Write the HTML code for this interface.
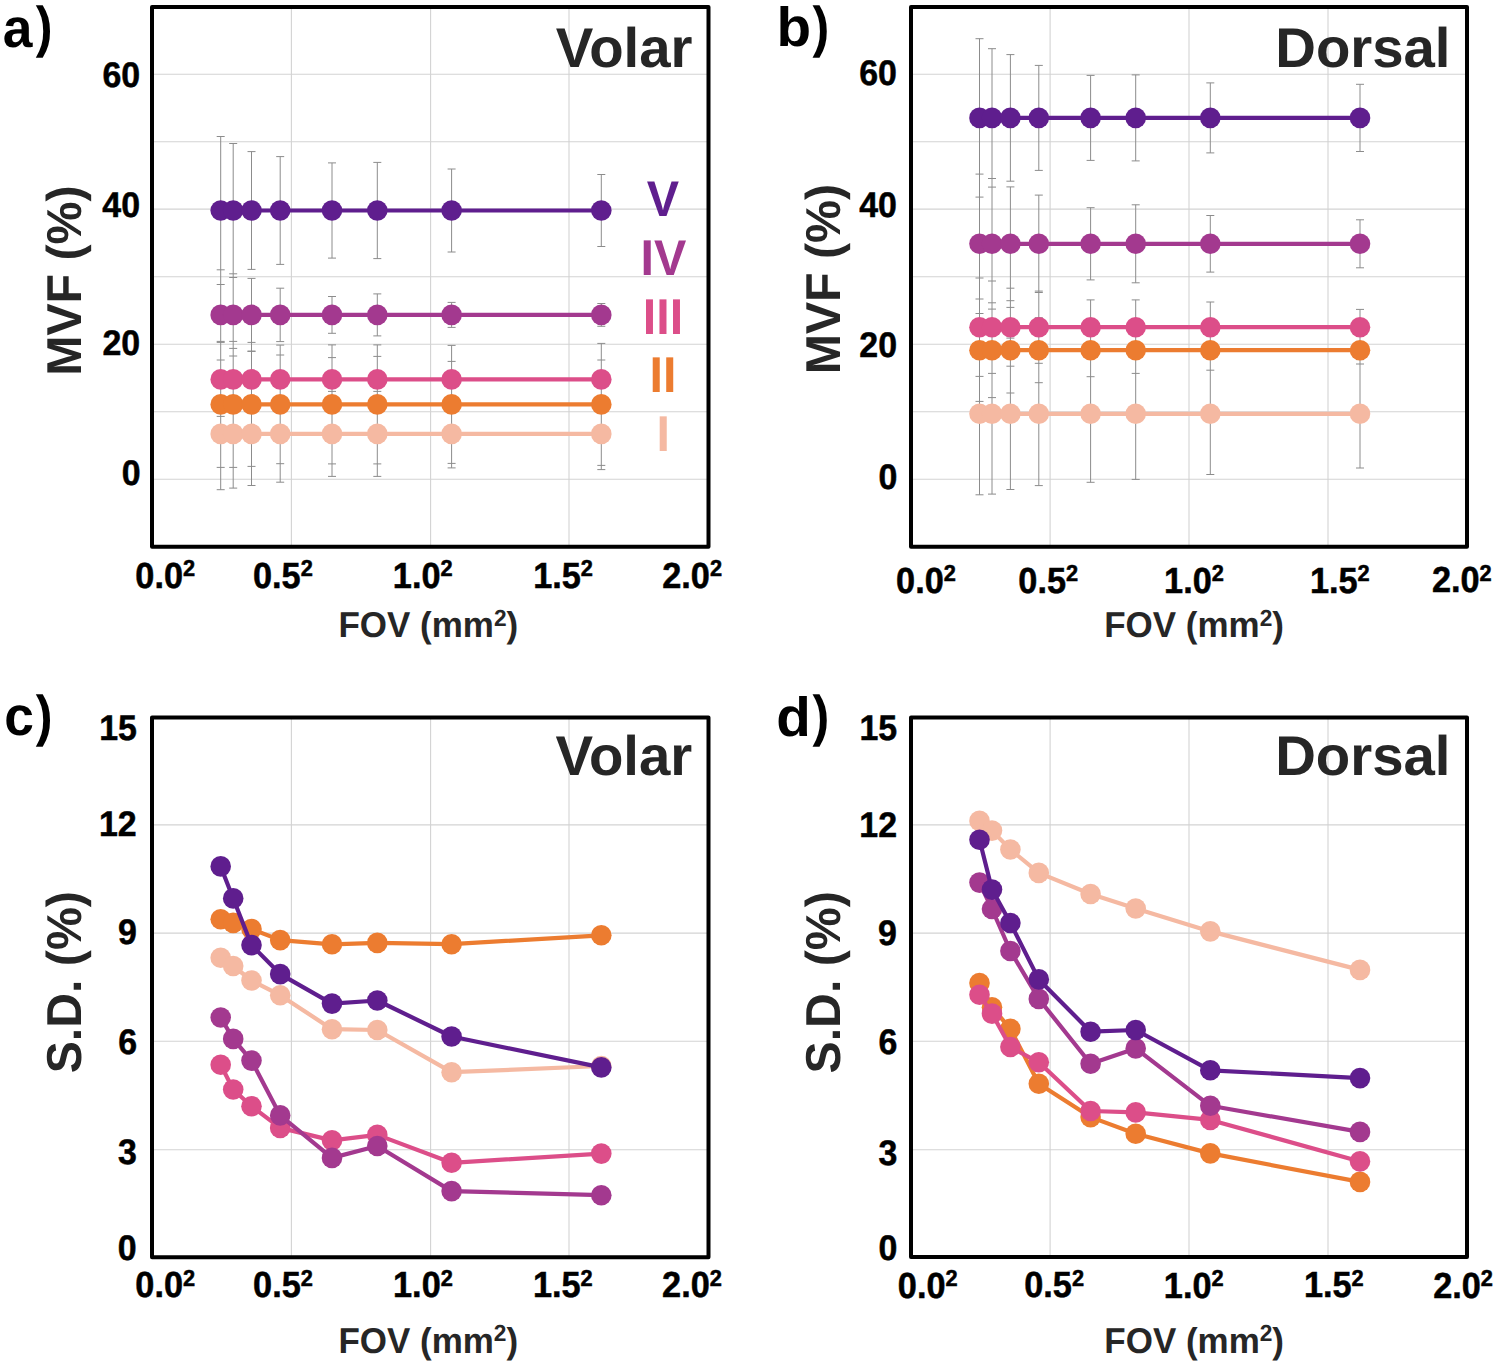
<!DOCTYPE html><html><head><meta charset="utf-8"><title>MVF FOV charts</title><style>html,body{margin:0;padding:0;background:#fff;}svg{display:block;}text{font-family:"Liberation Sans",sans-serif;font-weight:bold;text-rendering:geometricPrecision;}</style></head><body>
<svg width="1498" height="1366" viewBox="0 0 1498 1366">
<rect width="1498" height="1366" fill="#fff"/>
<path d="M291.4 7V546.8M430.6 7V546.8M569 7V546.8M152 74.2H708.5M152 141.7H708.5M152 209.1H708.5M152 276.7H708.5M152 344.3H708.5M152 411.8H708.5M152 479.3H708.5" stroke="#d3d3d3" stroke-width="1.1" fill="none"/>
<path d="M1050.1 7V546.8M1189 7V546.8M1328 7V546.8M911 74.2H1467M911 141.7H1467M911 209.1H1467M911 276.7H1467M911 344.3H1467M911 411.8H1467M911 479.3H1467" stroke="#d3d3d3" stroke-width="1.1" fill="none"/>
<path d="M291.4 717.5V1257.2M430.6 717.5V1257.2M569 717.5V1257.2M152 824.9H708.5M152 933.1H708.5M152 1041.3H708.5M152 1149.7H708.5" stroke="#d3d3d3" stroke-width="1.1" fill="none"/>
<path d="M1050.1 717.5V1257.1M1189 717.5V1257.1M1328 717.5V1257.1M911 824.9H1467M911 933.1H1467M911 1041.3H1467M911 1149.7H1467" stroke="#d3d3d3" stroke-width="1.1" fill="none"/>
<path d="M220.7 136.5V489.7M233.2 143.5V488.1M251.5 151.6V269.4M251.5 278.4V485.5M280.2 156.6V264.4M280.2 288.2V341.6M280.2 345.1V482.2M332 162.9V258.1M332 296.5V333.3M332 344.9V476.4M377.3 162.4V258.6M377.3 293.9V335.9M377.3 344.9V476.4M451.6 169V252M451.6 302.4V327.4M451.6 345.4V467.9M601.3 174.5V246.5M601.3 303.5V326.3M601.3 343.4V469.6" stroke="#8c8c8c" stroke-width="1" fill="none"/>
<path d="M216.7 378.1H224.7M216.7 489.7H224.7M229.2 379.7H237.2M229.2 488.1H237.2M247.5 382.3H255.5M247.5 485.5H255.5M276.2 385.6H284.2M276.2 482.2H284.2M328 391.4H336M328 476.4H336M373.3 391.4H381.3M373.3 476.4H381.3M447.6 399.9H455.6M447.6 467.9H455.6M597.3 398.2H605.3M597.3 469.6H605.3M216.7 341.4H224.7M216.7 467.4H224.7M229.2 341.4H237.2M229.2 467.4H237.2M247.5 342.4H255.5M247.5 466.4H255.5M276.2 345.1H284.2M276.2 463.7H284.2M328 344.9H336M328 463.9H336M373.3 344.9H381.3M373.3 463.9H381.3M447.6 345.4H455.6M447.6 463.4H455.6M597.3 343.4H605.3M597.3 465.4H605.3M216.7 342.4H224.7M216.7 416.4H224.7M229.2 348.4H237.2M229.2 410.4H237.2M247.5 351.1H255.5M247.5 407.7H255.5M276.2 355H284.2M276.2 403.8H284.2M328 357.6H336M328 401.2H336M373.3 356.4H381.3M373.3 402.4H381.3M447.6 361.4H455.6M447.6 397.4H455.6M597.3 360H605.3M597.3 398.8H605.3M216.7 269.8H224.7M216.7 360H224.7M229.2 273.8H237.2M229.2 356H237.2M247.5 278.4H255.5M247.5 351.4H255.5M276.2 288.2H284.2M276.2 341.6H284.2M328 296.5H336M328 333.3H336M373.3 293.9H381.3M373.3 335.9H381.3M447.6 302.4H455.6M447.6 327.4H455.6M597.3 303.5H605.3M597.3 326.3H605.3M216.7 136.5H224.7M216.7 284.5H224.7M229.2 143.5H237.2M229.2 277.5H237.2M247.5 151.6H255.5M247.5 269.4H255.5M276.2 156.6H284.2M276.2 264.4H284.2M328 162.9H336M328 258.1H336M373.3 162.4H381.3M373.3 258.6H381.3M447.6 169H455.6M447.6 252H455.6M597.3 174.5H605.3M597.3 246.5H605.3" stroke="#8c8c8c" stroke-width="1" fill="none"/>
<path d="M979.5 38.7V494.8M992 48.7V494.1M1010.4 54.6V181.2M1010.4 186.9V489.5M1038.8 65.4V170.4M1038.8 195.1V485.6M1090.6 75.4V160.4M1090.6 207.7V279.9M1090.6 299.9V482.3M1135.7 74.9V160.9M1135.7 204.8V282.8M1135.7 299.9V479.4M1210.3 82.9V152.9M1210.3 215.5V272.1M1210.3 302V474.5M1360 84.3V151.5M1360 219.8V267.8M1360 309.4V468" stroke="#8c8c8c" stroke-width="1" fill="none"/>
<path d="M975.5 332.8H983.5M975.5 494.8H983.5M988 333.5H996M988 494.1H996M1006.4 338.1H1014.4M1006.4 489.5H1014.4M1034.8 342H1042.8M1034.8 485.6H1042.8M1086.6 345.3H1094.6M1086.6 482.3H1094.6M1131.7 348.2H1139.7M1131.7 479.4H1139.7M1206.3 353.1H1214.3M1206.3 474.5H1214.3M1356 359.6H1364M1356 468H1364M975.5 299H983.5M975.5 401.4H983.5M988 302.8H996M988 397.6H996M1006.4 307.4H1014.4M1006.4 393H1014.4M1034.8 317.7H1042.8M1034.8 382.7H1042.8M1086.6 323.7H1094.6M1086.6 376.7H1094.6M1131.7 327H1139.7M1131.7 373.4H1139.7M1206.3 330.2H1214.3M1206.3 370.2H1214.3M1356 336.4H1364M1356 364H1364M975.5 278H983.5M975.5 376.4H983.5M988 281H996M988 373.4H996M1006.4 288.2H1014.4M1006.4 366.2H1014.4M1034.8 291.1H1042.8M1034.8 363.3H1042.8M1086.6 299.9H1094.6M1086.6 354.5H1094.6M1131.7 299.9H1139.7M1131.7 354.5H1139.7M1206.3 302H1214.3M1206.3 352.4H1214.3M1356 309.4H1364M1356 345H1364M975.5 174.1H983.5M975.5 313.5H983.5M988 178.5H996M988 309.1H996M1006.4 186.9H1014.4M1006.4 300.7H1014.4M1034.8 195.1H1042.8M1034.8 292.5H1042.8M1086.6 207.7H1094.6M1086.6 279.9H1094.6M1131.7 204.8H1139.7M1131.7 282.8H1139.7M1206.3 215.5H1214.3M1206.3 272.1H1214.3M1356 219.8H1364M1356 267.8H1364M975.5 38.7H983.5M975.5 197.1H983.5M988 48.7H996M988 187.1H996M1006.4 54.6H1014.4M1006.4 181.2H1014.4M1034.8 65.4H1042.8M1034.8 170.4H1042.8M1086.6 75.4H1094.6M1086.6 160.4H1094.6M1131.7 74.9H1139.7M1131.7 160.9H1139.7M1206.3 82.9H1214.3M1206.3 152.9H1214.3M1356 84.3H1364M1356 151.5H1364" stroke="#8c8c8c" stroke-width="1" fill="none"/>
<polyline points="220.7,433.9 233.2,433.9 251.5,433.9 280.2,433.9 332,433.9 377.3,433.9 451.6,433.9 601.3,433.9" fill="none" stroke="#f5b9a2" stroke-width="4.2" stroke-linejoin="round"/>
<g fill="#f5b9a2"><circle cx="220.7" cy="433.9" r="10.3"/><circle cx="233.2" cy="433.9" r="10.3"/><circle cx="251.5" cy="433.9" r="10.3"/><circle cx="280.2" cy="433.9" r="10.3"/><circle cx="332" cy="433.9" r="10.3"/><circle cx="377.3" cy="433.9" r="10.3"/><circle cx="451.6" cy="433.9" r="10.3"/><circle cx="601.3" cy="433.9" r="10.3"/></g>
<polyline points="220.7,404.4 233.2,404.4 251.5,404.4 280.2,404.4 332,404.4 377.3,404.4 451.6,404.4 601.3,404.4" fill="none" stroke="#ec7c30" stroke-width="4.2" stroke-linejoin="round"/>
<g fill="#ec7c30"><circle cx="220.7" cy="404.4" r="10.3"/><circle cx="233.2" cy="404.4" r="10.3"/><circle cx="251.5" cy="404.4" r="10.3"/><circle cx="280.2" cy="404.4" r="10.3"/><circle cx="332" cy="404.4" r="10.3"/><circle cx="377.3" cy="404.4" r="10.3"/><circle cx="451.6" cy="404.4" r="10.3"/><circle cx="601.3" cy="404.4" r="10.3"/></g>
<polyline points="220.7,379.4 233.2,379.4 251.5,379.4 280.2,379.4 332,379.4 377.3,379.4 451.6,379.4 601.3,379.4" fill="none" stroke="#dc4e89" stroke-width="4.2" stroke-linejoin="round"/>
<g fill="#dc4e89"><circle cx="220.7" cy="379.4" r="10.3"/><circle cx="233.2" cy="379.4" r="10.3"/><circle cx="251.5" cy="379.4" r="10.3"/><circle cx="280.2" cy="379.4" r="10.3"/><circle cx="332" cy="379.4" r="10.3"/><circle cx="377.3" cy="379.4" r="10.3"/><circle cx="451.6" cy="379.4" r="10.3"/><circle cx="601.3" cy="379.4" r="10.3"/></g>
<polyline points="220.7,314.9 233.2,314.9 251.5,314.9 280.2,314.9 332,314.9 377.3,314.9 451.6,314.9 601.3,314.9" fill="none" stroke="#a3398f" stroke-width="4.2" stroke-linejoin="round"/>
<g fill="#a3398f"><circle cx="220.7" cy="314.9" r="10.3"/><circle cx="233.2" cy="314.9" r="10.3"/><circle cx="251.5" cy="314.9" r="10.3"/><circle cx="280.2" cy="314.9" r="10.3"/><circle cx="332" cy="314.9" r="10.3"/><circle cx="377.3" cy="314.9" r="10.3"/><circle cx="451.6" cy="314.9" r="10.3"/><circle cx="601.3" cy="314.9" r="10.3"/></g>
<polyline points="220.7,210.5 233.2,210.5 251.5,210.5 280.2,210.5 332,210.5 377.3,210.5 451.6,210.5 601.3,210.5" fill="none" stroke="#5f1e8e" stroke-width="4.2" stroke-linejoin="round"/>
<g fill="#5f1e8e"><circle cx="220.7" cy="210.5" r="10.3"/><circle cx="233.2" cy="210.5" r="10.3"/><circle cx="251.5" cy="210.5" r="10.3"/><circle cx="280.2" cy="210.5" r="10.3"/><circle cx="332" cy="210.5" r="10.3"/><circle cx="377.3" cy="210.5" r="10.3"/><circle cx="451.6" cy="210.5" r="10.3"/><circle cx="601.3" cy="210.5" r="10.3"/></g>
<polyline points="979.5,413.8 992,413.8 1010.4,413.8 1038.8,413.8 1090.6,413.8 1135.7,413.8 1210.3,413.8 1360,413.8" fill="none" stroke="#f5b9a2" stroke-width="4.2" stroke-linejoin="round"/>
<g fill="#f5b9a2"><circle cx="979.5" cy="413.8" r="10.3"/><circle cx="992" cy="413.8" r="10.3"/><circle cx="1010.4" cy="413.8" r="10.3"/><circle cx="1038.8" cy="413.8" r="10.3"/><circle cx="1090.6" cy="413.8" r="10.3"/><circle cx="1135.7" cy="413.8" r="10.3"/><circle cx="1210.3" cy="413.8" r="10.3"/><circle cx="1360" cy="413.8" r="10.3"/></g>
<polyline points="979.5,350.2 992,350.2 1010.4,350.2 1038.8,350.2 1090.6,350.2 1135.7,350.2 1210.3,350.2 1360,350.2" fill="none" stroke="#ec7c30" stroke-width="4.2" stroke-linejoin="round"/>
<g fill="#ec7c30"><circle cx="979.5" cy="350.2" r="10.3"/><circle cx="992" cy="350.2" r="10.3"/><circle cx="1010.4" cy="350.2" r="10.3"/><circle cx="1038.8" cy="350.2" r="10.3"/><circle cx="1090.6" cy="350.2" r="10.3"/><circle cx="1135.7" cy="350.2" r="10.3"/><circle cx="1210.3" cy="350.2" r="10.3"/><circle cx="1360" cy="350.2" r="10.3"/></g>
<polyline points="979.5,327.2 992,327.2 1010.4,327.2 1038.8,327.2 1090.6,327.2 1135.7,327.2 1210.3,327.2 1360,327.2" fill="none" stroke="#dc4e89" stroke-width="4.2" stroke-linejoin="round"/>
<g fill="#dc4e89"><circle cx="979.5" cy="327.2" r="10.3"/><circle cx="992" cy="327.2" r="10.3"/><circle cx="1010.4" cy="327.2" r="10.3"/><circle cx="1038.8" cy="327.2" r="10.3"/><circle cx="1090.6" cy="327.2" r="10.3"/><circle cx="1135.7" cy="327.2" r="10.3"/><circle cx="1210.3" cy="327.2" r="10.3"/><circle cx="1360" cy="327.2" r="10.3"/></g>
<polyline points="979.5,243.8 992,243.8 1010.4,243.8 1038.8,243.8 1090.6,243.8 1135.7,243.8 1210.3,243.8 1360,243.8" fill="none" stroke="#a3398f" stroke-width="4.2" stroke-linejoin="round"/>
<g fill="#a3398f"><circle cx="979.5" cy="243.8" r="10.3"/><circle cx="992" cy="243.8" r="10.3"/><circle cx="1010.4" cy="243.8" r="10.3"/><circle cx="1038.8" cy="243.8" r="10.3"/><circle cx="1090.6" cy="243.8" r="10.3"/><circle cx="1135.7" cy="243.8" r="10.3"/><circle cx="1210.3" cy="243.8" r="10.3"/><circle cx="1360" cy="243.8" r="10.3"/></g>
<polyline points="979.5,117.9 992,117.9 1010.4,117.9 1038.8,117.9 1090.6,117.9 1135.7,117.9 1210.3,117.9 1360,117.9" fill="none" stroke="#5f1e8e" stroke-width="4.2" stroke-linejoin="round"/>
<g fill="#5f1e8e"><circle cx="979.5" cy="117.9" r="10.3"/><circle cx="992" cy="117.9" r="10.3"/><circle cx="1010.4" cy="117.9" r="10.3"/><circle cx="1038.8" cy="117.9" r="10.3"/><circle cx="1090.6" cy="117.9" r="10.3"/><circle cx="1135.7" cy="117.9" r="10.3"/><circle cx="1210.3" cy="117.9" r="10.3"/><circle cx="1360" cy="117.9" r="10.3"/></g>
<polyline points="220.7,957.7 233.2,966 251.5,980.5 280.2,995.2 332,1029.2 377.3,1030 451.6,1072.2 601.3,1066" fill="none" stroke="#f5b9a2" stroke-width="4.2" stroke-linejoin="round"/>
<g fill="#f5b9a2"><circle cx="220.7" cy="957.7" r="10.3"/><circle cx="233.2" cy="966" r="10.3"/><circle cx="251.5" cy="980.5" r="10.3"/><circle cx="280.2" cy="995.2" r="10.3"/><circle cx="332" cy="1029.2" r="10.3"/><circle cx="377.3" cy="1030" r="10.3"/><circle cx="451.6" cy="1072.2" r="10.3"/><circle cx="601.3" cy="1066" r="10.3"/></g>
<polyline points="220.7,919.3 233.2,922.9 251.5,929 280.2,940.1 332,944.3 377.3,942.9 451.6,944.2 601.3,935.3" fill="none" stroke="#ec7c30" stroke-width="4.2" stroke-linejoin="round"/>
<g fill="#ec7c30"><circle cx="220.7" cy="919.3" r="10.3"/><circle cx="233.2" cy="922.9" r="10.3"/><circle cx="251.5" cy="929" r="10.3"/><circle cx="280.2" cy="940.1" r="10.3"/><circle cx="332" cy="944.3" r="10.3"/><circle cx="377.3" cy="942.9" r="10.3"/><circle cx="451.6" cy="944.2" r="10.3"/><circle cx="601.3" cy="935.3" r="10.3"/></g>
<polyline points="220.7,1064.8 233.2,1089.5 251.5,1106.2 280.2,1127.9 332,1140.4 377.3,1134.9 451.6,1162.8 601.3,1153.6" fill="none" stroke="#dc4e89" stroke-width="4.2" stroke-linejoin="round"/>
<g fill="#dc4e89"><circle cx="220.7" cy="1064.8" r="10.3"/><circle cx="233.2" cy="1089.5" r="10.3"/><circle cx="251.5" cy="1106.2" r="10.3"/><circle cx="280.2" cy="1127.9" r="10.3"/><circle cx="332" cy="1140.4" r="10.3"/><circle cx="377.3" cy="1134.9" r="10.3"/><circle cx="451.6" cy="1162.8" r="10.3"/><circle cx="601.3" cy="1153.6" r="10.3"/></g>
<polyline points="220.7,1017.5 233.2,1038.9 251.5,1060.6 280.2,1115.4 332,1157.9 377.3,1146 451.6,1191.1 601.3,1195.2" fill="none" stroke="#a3398f" stroke-width="4.2" stroke-linejoin="round"/>
<g fill="#a3398f"><circle cx="220.7" cy="1017.5" r="10.3"/><circle cx="233.2" cy="1038.9" r="10.3"/><circle cx="251.5" cy="1060.6" r="10.3"/><circle cx="280.2" cy="1115.4" r="10.3"/><circle cx="332" cy="1157.9" r="10.3"/><circle cx="377.3" cy="1146" r="10.3"/><circle cx="451.6" cy="1191.1" r="10.3"/><circle cx="601.3" cy="1195.2" r="10.3"/></g>
<polyline points="220.7,866.4 233.2,898.4 251.5,945.1 280.2,974.1 332,1003.6 377.3,1000.5 451.6,1036.5 601.3,1067.4" fill="none" stroke="#5f1e8e" stroke-width="4.2" stroke-linejoin="round"/>
<g fill="#5f1e8e"><circle cx="220.7" cy="866.4" r="10.3"/><circle cx="233.2" cy="898.4" r="10.3"/><circle cx="251.5" cy="945.1" r="10.3"/><circle cx="280.2" cy="974.1" r="10.3"/><circle cx="332" cy="1003.6" r="10.3"/><circle cx="377.3" cy="1000.5" r="10.3"/><circle cx="451.6" cy="1036.5" r="10.3"/><circle cx="601.3" cy="1067.4" r="10.3"/></g>
<polyline points="979.5,820.9 992,830.6 1010.4,849.5 1038.8,872.9 1090.6,894 1135.7,908.5 1210.3,931.4 1360,969.9" fill="none" stroke="#f5b9a2" stroke-width="4.2" stroke-linejoin="round"/>
<g fill="#f5b9a2"><circle cx="979.5" cy="820.9" r="10.3"/><circle cx="992" cy="830.6" r="10.3"/><circle cx="1010.4" cy="849.5" r="10.3"/><circle cx="1038.8" cy="872.9" r="10.3"/><circle cx="1090.6" cy="894" r="10.3"/><circle cx="1135.7" cy="908.5" r="10.3"/><circle cx="1210.3" cy="931.4" r="10.3"/><circle cx="1360" cy="969.9" r="10.3"/></g>
<polyline points="979.5,983 992,1007.2 1010.4,1028.9 1038.8,1083.7 1090.6,1117.1 1135.7,1133.8 1210.3,1153.4 1360,1181.9" fill="none" stroke="#ec7c30" stroke-width="4.2" stroke-linejoin="round"/>
<g fill="#ec7c30"><circle cx="979.5" cy="983" r="10.3"/><circle cx="992" cy="1007.2" r="10.3"/><circle cx="1010.4" cy="1028.9" r="10.3"/><circle cx="1038.8" cy="1083.7" r="10.3"/><circle cx="1090.6" cy="1117.1" r="10.3"/><circle cx="1135.7" cy="1133.8" r="10.3"/><circle cx="1210.3" cy="1153.4" r="10.3"/><circle cx="1360" cy="1181.9" r="10.3"/></g>
<polyline points="979.5,994.7 992,1013.6 1010.4,1047 1038.8,1062.3 1090.6,1111 1135.7,1112.4 1210.3,1119.9 1360,1161.4" fill="none" stroke="#dc4e89" stroke-width="4.2" stroke-linejoin="round"/>
<g fill="#dc4e89"><circle cx="979.5" cy="994.7" r="10.3"/><circle cx="992" cy="1013.6" r="10.3"/><circle cx="1010.4" cy="1047" r="10.3"/><circle cx="1038.8" cy="1062.3" r="10.3"/><circle cx="1090.6" cy="1111" r="10.3"/><circle cx="1135.7" cy="1112.4" r="10.3"/><circle cx="1210.3" cy="1119.9" r="10.3"/><circle cx="1360" cy="1161.4" r="10.3"/></g>
<polyline points="979.5,882.6 992,909 1010.4,951 1038.8,998.9 1090.6,1063.7 1135.7,1048.4 1210.3,1105.8 1360,1131.9" fill="none" stroke="#a3398f" stroke-width="4.2" stroke-linejoin="round"/>
<g fill="#a3398f"><circle cx="979.5" cy="882.6" r="10.3"/><circle cx="992" cy="909" r="10.3"/><circle cx="1010.4" cy="951" r="10.3"/><circle cx="1038.8" cy="998.9" r="10.3"/><circle cx="1090.6" cy="1063.7" r="10.3"/><circle cx="1135.7" cy="1048.4" r="10.3"/><circle cx="1210.3" cy="1105.8" r="10.3"/><circle cx="1360" cy="1131.9" r="10.3"/></g>
<polyline points="979.5,839.8 992,889.6 1010.4,923 1038.8,979.4 1090.6,1031.7 1135.7,1030 1210.3,1070.3 1360,1078.1" fill="none" stroke="#5f1e8e" stroke-width="4.2" stroke-linejoin="round"/>
<g fill="#5f1e8e"><circle cx="979.5" cy="839.8" r="10.3"/><circle cx="992" cy="889.6" r="10.3"/><circle cx="1010.4" cy="923" r="10.3"/><circle cx="1038.8" cy="979.4" r="10.3"/><circle cx="1090.6" cy="1031.7" r="10.3"/><circle cx="1135.7" cy="1030" r="10.3"/><circle cx="1210.3" cy="1070.3" r="10.3"/><circle cx="1360" cy="1078.1" r="10.3"/></g>
<rect x="152" y="7" width="556.5" height="539.8" fill="none" stroke="#000" stroke-width="4" stroke-linejoin="round"/>
<rect x="911" y="7" width="556" height="539.8" fill="none" stroke="#000" stroke-width="4" stroke-linejoin="round"/>
<rect x="152" y="717.5" width="556.5" height="539.7" fill="none" stroke="#000" stroke-width="4" stroke-linejoin="round"/>
<rect x="911" y="717.5" width="556" height="539.6" fill="none" stroke="#000" stroke-width="4" stroke-linejoin="round"/>
<text transform="translate(2.79,46.59) scale(0.9617,1)" font-size="55.49" fill="#000" text-anchor="start">a</text>
<text transform="translate(35.75,46.21) scale(0.8937,1)" font-size="56.41" fill="#000" text-anchor="start">)</text>
<text transform="translate(776.52,46.28) scale(1.0254,1)" font-size="55.2" fill="#000" text-anchor="start">b</text>
<text transform="translate(812.55,46.21) scale(0.8937,1)" font-size="56.41" fill="#000" text-anchor="start">)</text>
<text transform="translate(4.25,735.43) scale(0.9617,1)" font-size="55.49" fill="#000" text-anchor="start">c</text>
<text transform="translate(35.75,735.26) scale(0.8937,1)" font-size="56.41" fill="#000" text-anchor="start">)</text>
<text transform="translate(776.33,735.53) scale(1.0254,1)" font-size="55.2" fill="#000" text-anchor="start">d</text>
<text transform="translate(812.55,735.36) scale(0.8937,1)" font-size="56.41" fill="#000" text-anchor="start">)</text>
<text transform="translate(102.41,86.53) scale(0.9539,1)" font-size="35.52" fill="#000" text-anchor="start" stroke="#000" stroke-width="0.52">60</text>
<text transform="translate(102.37,217.2) scale(0.9539,1)" font-size="35.52" fill="#000" text-anchor="start" stroke="#000" stroke-width="0.52">40</text>
<text transform="translate(102.38,354.77) scale(0.9539,1)" font-size="35.52" fill="#000" text-anchor="start" stroke="#000" stroke-width="0.52">20</text>
<text transform="translate(121.69,485.37) scale(0.9539,1)" font-size="35.52" fill="#000" text-anchor="start" stroke="#000" stroke-width="0.52">0</text>
<text transform="translate(859.24,84.78) scale(0.9539,1)" font-size="35.52" fill="#000" text-anchor="start" stroke="#000" stroke-width="0.52">60</text>
<text transform="translate(859.17,216.85) scale(0.9539,1)" font-size="35.52" fill="#000" text-anchor="start" stroke="#000" stroke-width="0.52">40</text>
<text transform="translate(859.34,356.79) scale(0.9539,1)" font-size="35.52" fill="#000" text-anchor="start" stroke="#000" stroke-width="0.52">20</text>
<text transform="translate(878.43,489.06) scale(0.9539,1)" font-size="35.52" fill="#000" text-anchor="start" stroke="#000" stroke-width="0.52">0</text>
<text transform="translate(99.17,740.27) scale(0.9539,1)" font-size="35.52" fill="#000" text-anchor="start" stroke="#000" stroke-width="0.52">15</text>
<text transform="translate(99.02,835.92) scale(0.9539,1)" font-size="35.52" fill="#000" text-anchor="start" stroke="#000" stroke-width="0.52">12</text>
<text transform="translate(117.9,944.17) scale(0.9539,1)" font-size="35.52" fill="#000" text-anchor="start" stroke="#000" stroke-width="0.52">9</text>
<text transform="translate(118.23,1053.66) scale(0.9539,1)" font-size="35.52" fill="#000" text-anchor="start" stroke="#000" stroke-width="0.52">6</text>
<text transform="translate(118.09,1163.99) scale(0.9539,1)" font-size="35.52" fill="#000" text-anchor="start" stroke="#000" stroke-width="0.52">3</text>
<text transform="translate(117.78,1260.09) scale(0.9539,1)" font-size="35.52" fill="#000" text-anchor="start" stroke="#000" stroke-width="0.52">0</text>
<text transform="translate(859.43,740.37) scale(0.9539,1)" font-size="35.52" fill="#000" text-anchor="start" stroke="#000" stroke-width="0.52">15</text>
<text transform="translate(859.35,836.96) scale(0.9539,1)" font-size="35.52" fill="#000" text-anchor="start" stroke="#000" stroke-width="0.52">12</text>
<text transform="translate(878.12,944.87) scale(0.9539,1)" font-size="35.52" fill="#000" text-anchor="start" stroke="#000" stroke-width="0.52">9</text>
<text transform="translate(878.42,1053.55) scale(0.9539,1)" font-size="35.52" fill="#000" text-anchor="start" stroke="#000" stroke-width="0.52">6</text>
<text transform="translate(878.54,1164.91) scale(0.9539,1)" font-size="35.52" fill="#000" text-anchor="start" stroke="#000" stroke-width="0.52">3</text>
<text transform="translate(878.45,1259.93) scale(0.9539,1)" font-size="35.52" fill="#000" text-anchor="start" stroke="#000" stroke-width="0.52">0</text>
<text transform="translate(135.33,587.81) scale(0.9450,1)" font-size="36.27" fill="#000" text-anchor="start" stroke="#000" stroke-width="0.53">0.0<tspan font-size="23.07" dy="-11.39">2</tspan></text>
<text transform="translate(253.01,587.74) scale(0.9450,1)" font-size="36.27" fill="#000" text-anchor="start" stroke="#000" stroke-width="0.53">0.5<tspan font-size="23.07" dy="-11.39">2</tspan></text>
<text transform="translate(392.82,587.86) scale(0.9450,1)" font-size="36.27" fill="#000" text-anchor="start" stroke="#000" stroke-width="0.53">1.0<tspan font-size="23.07" dy="-11.39">2</tspan></text>
<text transform="translate(533.22,587.73) scale(0.9450,1)" font-size="36.27" fill="#000" text-anchor="start" stroke="#000" stroke-width="0.53">1.5<tspan font-size="23.07" dy="-11.39">2</tspan></text>
<text transform="translate(662.28,587.86) scale(0.9450,1)" font-size="36.27" fill="#000" text-anchor="start" stroke="#000" stroke-width="0.53">2.0<tspan font-size="23.07" dy="-11.39">2</tspan></text>
<text transform="translate(896.12,592.7) scale(0.9450,1)" font-size="36.27" fill="#000" text-anchor="start" stroke="#000" stroke-width="0.53">0.0<tspan font-size="23.07" dy="-11.39">2</tspan></text>
<text transform="translate(1018.32,592.56) scale(0.9450,1)" font-size="36.27" fill="#000" text-anchor="start" stroke="#000" stroke-width="0.53">0.5<tspan font-size="23.07" dy="-11.39">2</tspan></text>
<text transform="translate(1164.08,592.7) scale(0.9450,1)" font-size="36.27" fill="#000" text-anchor="start" stroke="#000" stroke-width="0.53">1.0<tspan font-size="23.07" dy="-11.39">2</tspan></text>
<text transform="translate(1309.89,592.58) scale(0.9450,1)" font-size="36.27" fill="#000" text-anchor="start" stroke="#000" stroke-width="0.53">1.5<tspan font-size="23.07" dy="-11.39">2</tspan></text>
<text transform="translate(1431.89,592.3) scale(0.9450,1)" font-size="36.27" fill="#000" text-anchor="start" stroke="#000" stroke-width="0.53">2.0<tspan font-size="23.07" dy="-11.39">2</tspan></text>
<text transform="translate(135.32,1297.43) scale(0.9450,1)" font-size="36.27" fill="#000" text-anchor="start" stroke="#000" stroke-width="0.53">0.0<tspan font-size="23.07" dy="-11.39">2</tspan></text>
<text transform="translate(253.08,1297.35) scale(0.9450,1)" font-size="36.27" fill="#000" text-anchor="start" stroke="#000" stroke-width="0.53">0.5<tspan font-size="23.07" dy="-11.39">2</tspan></text>
<text transform="translate(393.05,1297.47) scale(0.9450,1)" font-size="36.27" fill="#000" text-anchor="start" stroke="#000" stroke-width="0.53">1.0<tspan font-size="23.07" dy="-11.39">2</tspan></text>
<text transform="translate(532.88,1297.38) scale(0.9450,1)" font-size="36.27" fill="#000" text-anchor="start" stroke="#000" stroke-width="0.53">1.5<tspan font-size="23.07" dy="-11.39">2</tspan></text>
<text transform="translate(662.09,1297.48) scale(0.9450,1)" font-size="36.27" fill="#000" text-anchor="start" stroke="#000" stroke-width="0.53">2.0<tspan font-size="23.07" dy="-11.39">2</tspan></text>
<text transform="translate(897.87,1297.56) scale(0.9450,1)" font-size="36.27" fill="#000" text-anchor="start" stroke="#000" stroke-width="0.53">0.0<tspan font-size="23.07" dy="-11.39">2</tspan></text>
<text transform="translate(1024.23,1297.46) scale(0.9450,1)" font-size="36.27" fill="#000" text-anchor="start" stroke="#000" stroke-width="0.53">0.5<tspan font-size="23.07" dy="-11.39">2</tspan></text>
<text transform="translate(1163.87,1297.59) scale(0.9450,1)" font-size="36.27" fill="#000" text-anchor="start" stroke="#000" stroke-width="0.53">1.0<tspan font-size="23.07" dy="-11.39">2</tspan></text>
<text transform="translate(1303.94,1297.48) scale(0.9450,1)" font-size="36.27" fill="#000" text-anchor="start" stroke="#000" stroke-width="0.53">1.5<tspan font-size="23.07" dy="-11.39">2</tspan></text>
<text transform="translate(1433.19,1297.58) scale(0.9450,1)" font-size="36.27" fill="#000" text-anchor="start" stroke="#000" stroke-width="0.53">2.0<tspan font-size="23.07" dy="-11.39">2</tspan></text>
<text transform="translate(338.5,637.45) scale(0.9736,1)" font-size="35.91" fill="#262626" text-anchor="start">FOV (mm<tspan font-size="23.34" dy="-11.56">2</tspan><tspan dy="11.56">)</tspan></text>
<text transform="translate(1104.25,637.42) scale(0.9736,1)" font-size="35.91" fill="#262626" text-anchor="start">FOV (mm<tspan font-size="23.34" dy="-11.56">2</tspan><tspan dy="11.56">)</tspan></text>
<text transform="translate(338.47,1353.04) scale(0.9736,1)" font-size="35.91" fill="#262626" text-anchor="start">FOV (mm<tspan font-size="23.34" dy="-11.56">2</tspan><tspan dy="11.56">)</tspan></text>
<text transform="translate(1104.33,1353.02) scale(0.9736,1)" font-size="35.91" fill="#262626" text-anchor="start">FOV (mm<tspan font-size="23.34" dy="-11.56">2</tspan><tspan dy="11.56">)</tspan></text>
<text transform="translate(80.97,280.64) rotate(-90) scale(0.9852,1)" font-size="48.97" fill="#262626" text-anchor="middle">MVF (%)</text>
<text transform="translate(840.03,279.14) rotate(-90) scale(0.9852,1)" font-size="48.97" fill="#262626" text-anchor="middle">MVF (%)</text>
<text transform="translate(81.31,982.26) rotate(-90) scale(0.9840,1)" font-size="49.02" fill="#262626" text-anchor="middle">S.D. (%)</text>
<text transform="translate(839.83,982.41) rotate(-90) scale(0.9840,1)" font-size="49.02" fill="#262626" text-anchor="middle">S.D. (%)</text>
<text transform="translate(555.75,66.51) scale(1.0093,1)" font-size="55.8" fill="#262626" text-anchor="start">Volar</text>
<text transform="translate(1275.21,66.74) scale(1.0093,1)" font-size="55.8" fill="#262626" text-anchor="start">Dorsal</text>
<text transform="translate(555.59,774.94) scale(1.0093,1)" font-size="55.8" fill="#262626" text-anchor="start">Volar</text>
<text transform="translate(1275.19,775.24) scale(1.0093,1)" font-size="55.8" fill="#262626" text-anchor="start">Dorsal</text>
<text transform="translate(646.77,216.05) scale(0.9632,1)" font-size="50.33" fill="#5f1e8e" text-anchor="start">V</text>
<text transform="translate(640.45,274.65) scale(0.9632,1)" font-size="50.33" fill="#a3398f" text-anchor="start">IV</text>
<text transform="translate(642.77,333.59) scale(0.9632,1)" font-size="50.33" fill="#dc4e89" text-anchor="start">III</text>
<text transform="translate(649.47,391.69) scale(0.9632,1)" font-size="50.33" fill="#ec7c30" text-anchor="start">II</text>
<text transform="translate(656.4,450.74) scale(0.9632,1)" font-size="50.33" fill="#f5b9a2" text-anchor="start">I</text>
</svg></body></html>
